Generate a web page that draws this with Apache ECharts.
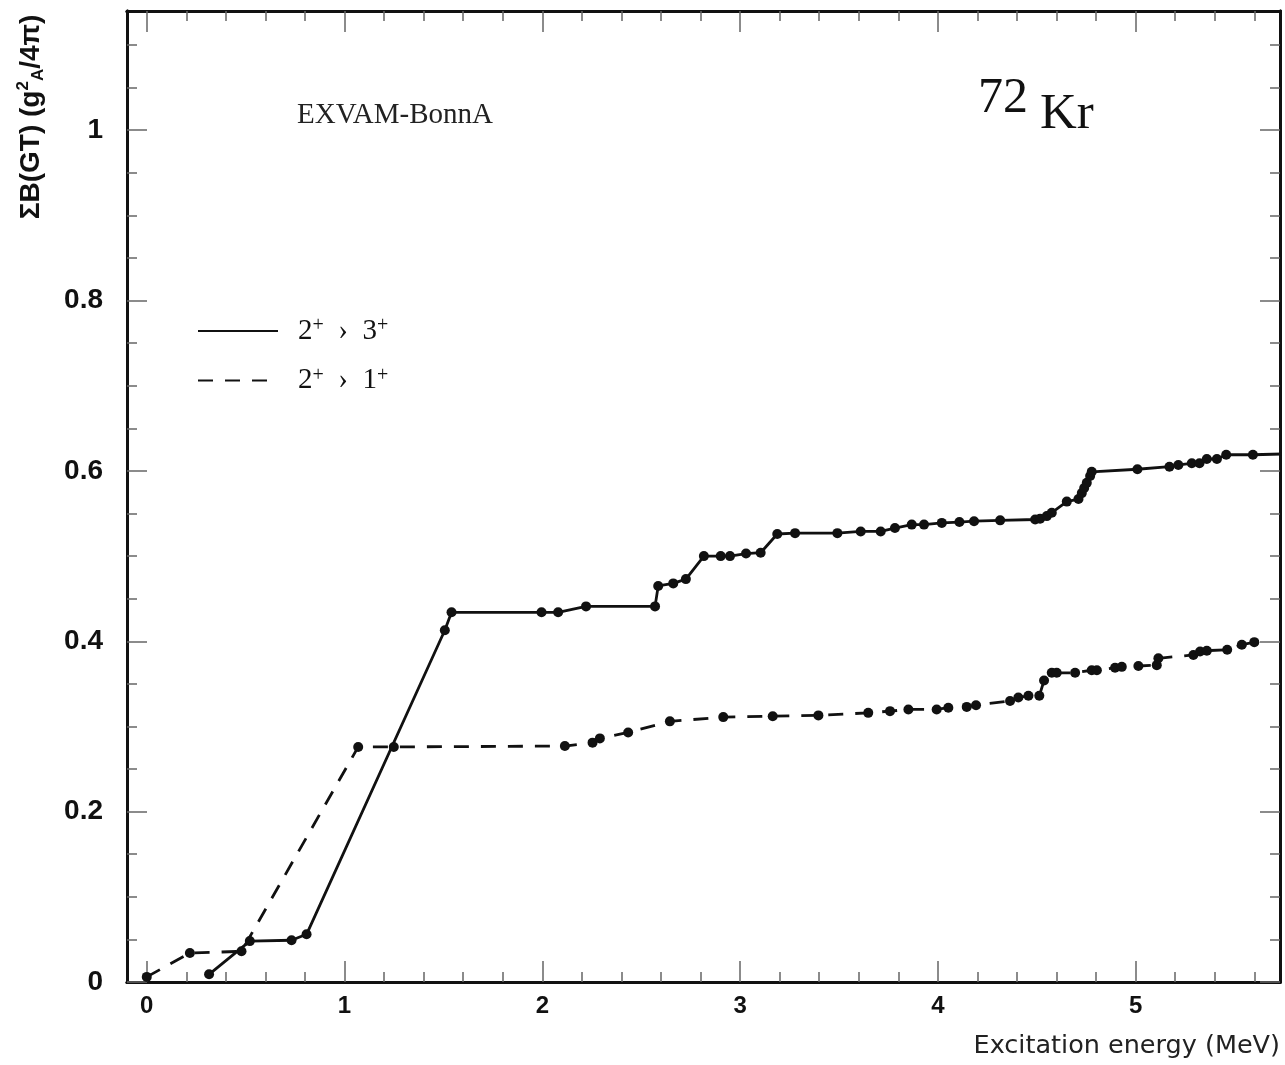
<!DOCTYPE html>
<html>
<head>
<meta charset="utf-8">
<script src="https://cdn.jsdelivr.net/npm/echarts@6/dist/echarts.min.js"></script>
<style>
  html, body { margin: 0; padding: 0; background: #fff; }
  #chart { width: 1285px; height: 1065px; }
</style>
</head>
<body>
<div id="chart"></div>
<script>
// Cumulative Gamow-Teller strength of 72Kr against excitation energy (EXVAM, Bonn A)

// 2+ -> 3+ running sum
const energy23 = [0.315, 0.521, 0.732, 0.808, 1.507, 1.541, 1.996, 2.080, 2.221, 2.570,
  2.586, 2.662, 2.726, 2.817, 2.902, 2.949, 3.030, 3.104, 3.188, 3.278,
  3.492, 3.610, 3.711, 3.783, 3.868, 3.930, 4.020, 4.109, 4.183, 4.315,
  4.492, 4.517, 4.551, 4.576, 4.652, 4.711, 4.728, 4.740, 4.753, 4.770,
  4.778, 5.009, 5.171, 5.216, 5.284, 5.323, 5.360, 5.411, 5.458, 5.593, 5.760];
const sumBGT23 = [0.009, 0.048, 0.049, 0.056, 0.413, 0.434, 0.434, 0.434, 0.441, 0.441,
  0.465, 0.468, 0.473, 0.500, 0.500, 0.500, 0.503, 0.504, 0.526, 0.527,
  0.527, 0.529, 0.529, 0.533, 0.537, 0.537, 0.539, 0.540, 0.541, 0.542,
  0.543, 0.544, 0.547, 0.551, 0.564, 0.567, 0.574, 0.580, 0.586, 0.594,
  0.599, 0.602, 0.605, 0.607, 0.609, 0.609, 0.614, 0.614, 0.619, 0.619, 0.620];

// 2+ -> 1+ running sum
const energy21 = [0.000, 0.218, 0.479, 1.069, 1.249, 2.114, 2.254, 2.291, 2.434, 2.645,
  2.915, 3.165, 3.396, 3.648, 3.758, 3.851, 3.994, 4.053, 4.146, 4.193,
  4.365, 4.407, 4.458, 4.513, 4.537, 4.576, 4.601, 4.694, 4.778, 4.804,
  4.896, 4.930, 5.014, 5.107, 5.115, 5.292, 5.326, 5.360, 5.463, 5.537, 5.600];
const sumBGT21 = [0.006, 0.034, 0.036, 0.276, 0.276, 0.277, 0.281, 0.286, 0.293, 0.306,
  0.311, 0.312, 0.313, 0.316, 0.318, 0.320, 0.320, 0.322, 0.323, 0.325,
  0.330, 0.334, 0.336, 0.336, 0.354, 0.363, 0.363, 0.363, 0.366, 0.366,
  0.369, 0.370, 0.371, 0.372, 0.380, 0.384, 0.388, 0.389, 0.390, 0.396, 0.399];

// axis ticks and labels
const xMajorTicks = [0, 1, 2, 3, 4, 5];
const xMinorTicks = [0.2, 0.4, 0.6, 0.8, 1.2, 1.4, 1.6, 1.8, 2.2, 2.4, 2.6, 2.8,
  3.2, 3.4, 3.6, 3.8, 4.2, 4.4, 4.6, 4.8, 5.2, 5.4, 5.6];
const yMajorTicks = [0, 0.2, 0.4, 0.6, 0.8, 1];
const yMinorTicks = [0.05, 0.1, 0.15, 0.25, 0.3, 0.35, 0.45, 0.5, 0.55, 0.65, 0.7, 0.75,
  0.85, 0.9, 0.95, 1.05, 1.1];

// legend entries: [initial, final] spin-parity of each transition
const seriesNames = ['2+ to 3+', '2+ to 1+'];
const legendSpins = [['2', '3'], ['2', '1']];

const xName = 'Excitation energy (MeV)';
const modelLabel = 'EXVAM-BonnA';
const massNumber = '72';
const element = 'Kr';

const zip = (xs, ys) => xs.map((x, i) => [x, ys[i]]);

const INK = '#111';
const TICK = '#666';
const SANS = 'Arial, "Liberation Sans", Helvetica, sans-serif';
const SERIF = '"Liberation Serif", "Times New Roman", serif';

function xAxisDef(position, ticks, len, withLabels) {
  const axis = {
    type: 'value', position, min: -0.1, max: 5.73,
    axisLine: { show: true, onZero: false, lineStyle: { color: INK, width: 3 } },
    axisTick: { show: true, inside: true, length: len, customValues: ticks,
      lineStyle: { color: TICK, width: 1.5 } },
    axisLabel: { show: false },
    splitLine: { show: false },
    minorTick: { show: false }
  };
  if (withLabels) {
    axis.axisLabel = {
      show: true, customValues: xMajorTicks, margin: 12, color: INK,
      fontFamily: SANS, fontWeight: 'bold', fontSize: 24,
      formatter: v => String(v)
    };
    axis.name = xName;
    axis.nameLocation = 'end';
    axis.nameGap = 0;
    axis.nameTextStyle = {
      fontFamily: 'DejaVu Sans', fontSize: 25.5, color: '#222',
      align: 'right', verticalAlign: 'top', padding: [51, 0, 0, 0]
    };
  }
  return axis;
}

function yAxisDef(position, ticks, len, withLabels) {
  const axis = {
    type: 'value', position, min: 0, max: 1.14,
    axisLine: { show: true, onZero: false, lineStyle: { color: INK, width: 3 } },
    axisTick: { show: true, inside: true, length: len, customValues: ticks,
      lineStyle: { color: TICK, width: 1.5 } },
    axisLabel: { show: false },
    splitLine: { show: false },
    minorTick: { show: false }
  };
  if (withLabels) {
    axis.axisLabel = {
      show: true, customValues: yMajorTicks, margin: 24, color: INK,
      fontFamily: SANS, fontWeight: 'bold', fontSize: 28,
      formatter: v => String(v)
    };
  }
  return axis;
}

const chart = echarts.init(document.getElementById('chart'), null, { renderer: 'canvas' });

chart.setOption({
  animation: false,
  backgroundColor: '#fff',
  grid: { left: 127, top: 11, right: 5, bottom: 83, containLabel: false, outerBoundsMode: 'none' },
  xAxis: [
    xAxisDef('bottom', xMajorTicks, 21, true),
    xAxisDef('bottom', xMinorTicks, 10, false),
    xAxisDef('top', xMajorTicks, 21, false),
    xAxisDef('top', xMinorTicks, 10, false)
  ],
  yAxis: [
    yAxisDef('left', yMajorTicks, 20, true),
    yAxisDef('left', yMinorTicks, 10, false),
    yAxisDef('right', yMajorTicks, 20, false),
    yAxisDef('right', yMinorTicks, 10, false)
  ],
  legend: {
    orient: 'vertical', left: 197, top: 316, padding: 0,
    itemWidth: 80, itemHeight: 14, itemGap: 20, selectedMode: false,
    itemStyle: { opacity: 0 },
    data: seriesNames,
    formatter: name => {
      const [a, b] = legendSpins[seriesNames.indexOf(name)];
      return '{f|' + a + '}{s|+}{n|  \u203a  ' + b + '}{s|+}';
    },
    textStyle: {
      color: INK,
      rich: {
        f: { fontFamily: SERIF, fontSize: 29, lineHeight: 30, color: INK, padding: [0, 0, 0, 15] },
        n: { fontFamily: SERIF, fontSize: 29, lineHeight: 30, color: INK },
        s: { fontFamily: SERIF, fontSize: 20, lineHeight: 18, verticalAlign: 'top', color: INK }
      }
    }
  },
  graphic: [
    {
      type: 'text', x: 31, y: 117, rotation: Math.PI / 2,
      style: {
        text: '{b|\u03a3B(GT) (g}{sup|2}{sub|A}{b|/4\u03c0)}',
        align: 'center', verticalAlign: 'middle',
        rich: {
          b: { fontFamily: SANS, fontWeight: 'bold', fontSize: 28, lineHeight: 32, fill: INK },
          sup: { fontFamily: SANS, fontWeight: 'bold', fontSize: 17, lineHeight: 20, verticalAlign: 'top', fill: INK },
          sub: { fontFamily: SANS, fontWeight: 'bold', fontSize: 17, lineHeight: 18, verticalAlign: 'bottom', fill: INK }
        }
      }
    },
    {
      type: 'text', x: 297, y: 115,
      style: { text: modelLabel, fontFamily: SERIF, fontSize: 29, fill: '#222',
        align: 'left', verticalAlign: 'middle' }
    },
    {
      type: 'text', x: 978, y: 99,
      style: { text: massNumber, fontFamily: SERIF, fontSize: 50, fill: INK,
        align: 'left', verticalAlign: 'middle' }
    },
    {
      type: 'text', x: 1040, y: 115,
      style: { text: element, fontFamily: SERIF, fontSize: 51, fill: INK,
        align: 'left', verticalAlign: 'middle' }
    }
  ],
  series: [
    {
      name: seriesNames[0], type: 'line', xAxisIndex: 0, yAxisIndex: 0,
      data: zip(energy23, sumBGT23),
      symbol: 'circle', symbolSize: 10, showAllSymbol: true, clip: true,
      itemStyle: { color: INK },
      lineStyle: { color: INK, width: 2.8, type: 'solid' }
    },
    {
      name: seriesNames[1], type: 'line', xAxisIndex: 0, yAxisIndex: 0,
      data: zip(energy21, sumBGT21),
      symbol: 'circle', symbolSize: 10, showAllSymbol: true, clip: true,
      itemStyle: { color: INK },
      lineStyle: { color: INK, width: 2.8, type: [15, 12] }
    }
  ]
});
</script>
</body>
</html>
